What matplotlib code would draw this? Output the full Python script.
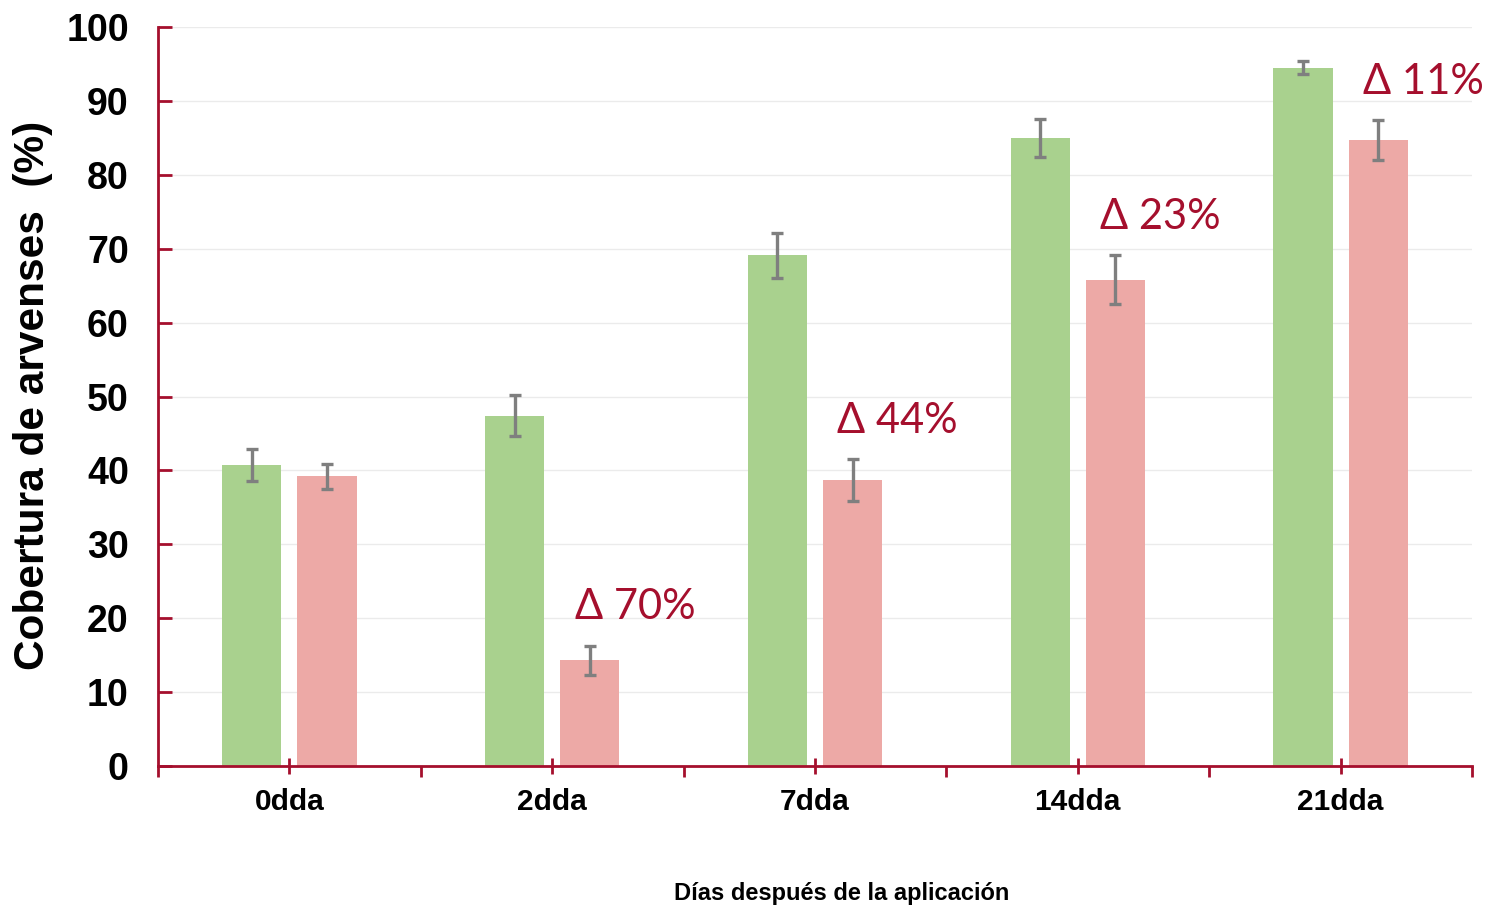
import numpy as np
import matplotlib
matplotlib.use("Agg")
import matplotlib.pyplot as plt

# datos
categorias = ["0dda", "2dda", "7dda", "14dda", "21dda"]
testigo = [40.7, 47.4, 69.1, 85.0, 94.5]
testigo_err = [2.2, 2.8, 3.0, 2.6, 0.9]
tratado = [39.2, 14.3, 38.7, 65.8, 84.7]
tratado_err = [1.7, 2.0, 2.8, 3.3, 2.7]
deltas = ["", "Δ 70%", "Δ 44%", "Δ 23%", "Δ 11%"]

rojo = "#A50F2D"
verde = "#A9D18E"
rosa = "#EDA9A6"
gris = "#7F7F7F"

fig = plt.figure(figsize=(14.91, 9.05), dpi=100)
ax = fig.add_axes([158 / 1491, 1 - 766 / 905, (1472 - 158) / 1491, (766 - 27) / 905])

x = np.arange(len(categorias))
w = 0.225
off = 0.143
ax.bar(x - off, testigo, width=w, color=verde, zorder=2)
ax.bar(x + off, tratado, width=w, color=rosa, zorder=2)
ek = dict(fmt="none", ecolor=gris, elinewidth=2.4, capsize=4.5, capthick=2.4, zorder=3)
ax.errorbar(x - off, testigo, yerr=testigo_err, **ek)
ax.errorbar(x + off, tratado, yerr=tratado_err, **ek)

for i, d in enumerate(deltas):
    if d:
        ax.text(i + 0.315, tratado[i] + tratado_err[i] + 5.2, d, color=rojo,
                fontsize=30, family="Lato", ha="center", va="center", zorder=4)

ax.set_xlim(-0.5, len(categorias) - 0.5)
ax.set_ylim(0, 100)
ax.set_yticks(np.arange(0, 101, 10))
ax.yaxis.grid(True, color="#EBEBEB", linewidth=1, zorder=0)
ax.set_axisbelow(True)

# ticks del eje x: cruzados en el centro, hacia fuera en los límites
ax.set_xticks(x)
ax.set_xticklabels(categorias, fontsize=21.5, fontweight="bold", family="Liberation Sans")
ax.tick_params(axis="x", which="major", direction="inout", length=12, width=2,
               color=rojo, pad=10)
ax.set_xticks(np.arange(-0.5, len(categorias)), minor=True)
ax.tick_params(axis="x", which="minor", direction="out", length=8, width=2, color=rojo)
ax.tick_params(axis="y", direction="in", length=10, width=2, color=rojo, pad=21)
for lab in ax.get_yticklabels():
    lab.set_fontsize(27)
    lab.set_fontweight("bold")
    lab.set_family("Liberation Sans")

for s in ["top", "right"]:
    ax.spines[s].set_visible(False)
for s in ["left", "bottom"]:
    ax.spines[s].set_color(rojo)
    ax.spines[s].set_linewidth(2)

fig.text(33 / 1491, 1 - 395 / 905, "Cobertura de arvenses  (%)", rotation=90,
         fontsize=30.5, fontweight="bold", family="Liberation Sans",
         ha="center", va="center")
fig.text(842 / 1491, 1 - 893 / 905, "Días después de la aplicación",
         fontsize=17, fontweight="bold", family="Liberation Sans",
         ha="center", va="center")

fig.savefig("out.png", dpi=100)
